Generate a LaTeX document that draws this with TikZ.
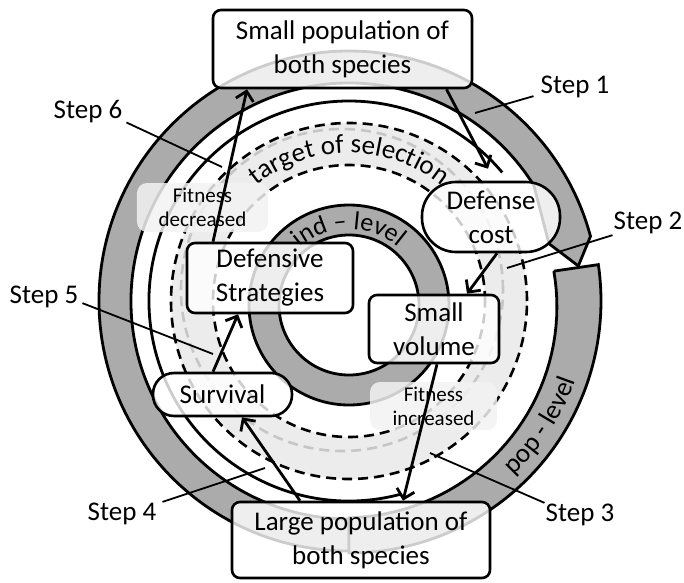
\documentclass[tikz,border=0pt]{standalone}
\usepackage{fontspec}
\setmainfont{Carlito}
\usetikzlibrary{arrows.meta,decorations.text,calc}
\definecolor{ringgray}{HTML}{ABABAB}
\definecolor{bandgray}{HTML}{ECECEC}
\definecolor{ghost}{HTML}{C6C6C6}
\begin{document}
\begin{tikzpicture}[x=1pt,y=1pt,
  ringline/.style={line width=2.8pt},
  dashline/.style={line width=2.6pt, dash pattern=on 10pt off 6pt},
  box/.style={draw, line width=2.6pt, rounded corners=8pt, fill=white, fill opacity=0.8, text opacity=1, align=center, inner sep=0pt, font=\fontsize{27}{34}\selectfont},
  fitbox/.style={fill=black!5, fill opacity=0.85, text opacity=1, rounded corners=10pt, align=center, inner sep=0pt, font=\fontsize{21}{24}\selectfont},
  steplbl/.style={font=\fontsize{27}{30}\selectfont, inner sep=1pt},
  leader/.style={line width=1.8pt},
  arr/.style={line width=2.8pt, -{Straight Barb[length=9pt,width=18pt]}},
]
\useasboundingbox (-349,-281) rectangle (335,301);

% outer pop-level ring, upper part with head
\filldraw[fill=ringgray, ringline, line join=miter]
  (270:250) arc[start angle=270, end angle=15, radius=250]
  -- (8.7:232) -- (16:208) -- (32:218)
  arc[start angle=32, end angle=270, radius=218] -- cycle;
% lower part
\filldraw[fill=ringgray, ringline, line join=miter]
  (8.3:207) -- (8.3:252) arc[start angle=8.3, end angle=-90, radius=252]
  -- plot[domain=-90:8.3, samples=40] (\x:{207+(8.3-\x)*0.1}) -- cycle;
% black circle
\draw[ringline] (-75:200) arc[start angle=-75, end angle=-320, radius=200];

% target of selection band
\fill[bandgray, even odd rule] (0,0) circle[radius=178] (0,0) circle[radius=136];
\draw[ghost, dashline] (-7,11) circle[radius=161];
\draw[dashline] (0,0) circle[radius=178];
\draw[dashline] (0,0) circle[radius=136];

% inner ind-level ring
\filldraw[fill=ringgray, ringline, even odd rule] (0,-4) circle[radius=100] (0,-4) circle[radius=70];

% curved texts
\path[decorate, decoration={text along path, text align=center,
  text={|\fontsize{27}{27}\selectfont|target of selection}}]
  (160:148) arc[start angle=160, end angle=20, radius=148];
\path[decorate, decoration={text along path, text align=center,
  text={|\fontsize{26}{26}\selectfont|ind – level}}]
  ([shift={(0,-4)}]170:76) arc[start angle=170, end angle=10, radius=76];
\path[decorate, decoration={text along path, text align=center,
  text={|\fontsize{27}{27}\selectfont|pop - level}}]
  (-62:240) arc[start angle=-62, end angle=-4, radius=240];

% boxes
\node[box, minimum width=259pt, minimum height=78pt] (sp) at (-6.5,252) {Small population of\\both species};
\node[box, minimum width=258pt, minimum height=76pt] (lp) at (12,-239) {Large population of\\both species};
\node[box, rounded corners=34pt, minimum width=138pt, minimum height=70pt] (dc) at (142,84) {Defense\\cost};
\node[box, minimum width=130pt, minimum height=68pt] (sv) at (85,-28) {Small\\volume};
\node[box, minimum width=166pt, minimum height=70pt] (ds) at (-79,23) {Defensive\\Strategies};
\node[box, rounded corners=21pt, minimum width=139pt, minimum height=43pt] (su) at (-126.5,-93.5) {Survival};

% fitness labels
\node[fitbox, minimum width=131pt, minimum height=49pt] (fd) at (-146.5,93.5) {Fitness\\decreased};
\node[fitbox, minimum width=127pt, minimum height=48pt] (fi) at (84.5,-105) {Fitness\\increased};

% arrows
\draw[arr] ([xshift=104pt]sp.south) -- ([shift={(-3pt,12pt)}]dc.north);
\draw[arr] ([xshift=6pt]dc.south) -- ([xshift=33pt]sv.north);
\draw[arr] ([xshift=3pt]sv.south) -- ([xshift=42pt]lp.north);
\draw[arr] ([xshift=-61pt]lp.north) -- ([xshift=19.5pt]su.south);
\draw[arr] ([xshift=-9.5pt]su.north) -- ([xshift=-32pt]ds.south);
\draw[arr] ([xshift=-57pt]ds.north) -- ([xshift=-95.5pt]sp.south);

% step labels
\node[steplbl] (s1) at (226,214) {Step 1};
\node[steplbl] (s2) at (299,78) {Step 2};
\node[steplbl] (s3) at (231,-214) {Step 3};
\node[steplbl] (s4) at (-227,-213) {Step 4};
\node[steplbl] (s5) at (-305,4) {Step 5};
\node[steplbl] (s6) at (-261,189) {Step 6};

\coordinate (e1) at (126,188);
\coordinate (e2) at (158,33);
\coordinate (e3) at (81,-152);
\coordinate (e4) at (-84,-167);
\coordinate (e5) at (-136,-53);
\coordinate (e6) at (-127,134);
\draw[leader] ([shift={(-6pt,3pt)}]s1.south west) -- (e1);
\draw[leader] (s2.south west) -- (e2);
\draw[leader] (s3.north west) -- (e3);
\draw[leader] ([xshift=5pt]s4.north east) -- (e4);
\draw[leader] ([shift={(3pt,6pt)}]s5.south east) -- (e5);
\draw[leader] ([shift={(3pt,2pt)}]s6.south east) -- (e6);
\end{tikzpicture}
\end{document}
